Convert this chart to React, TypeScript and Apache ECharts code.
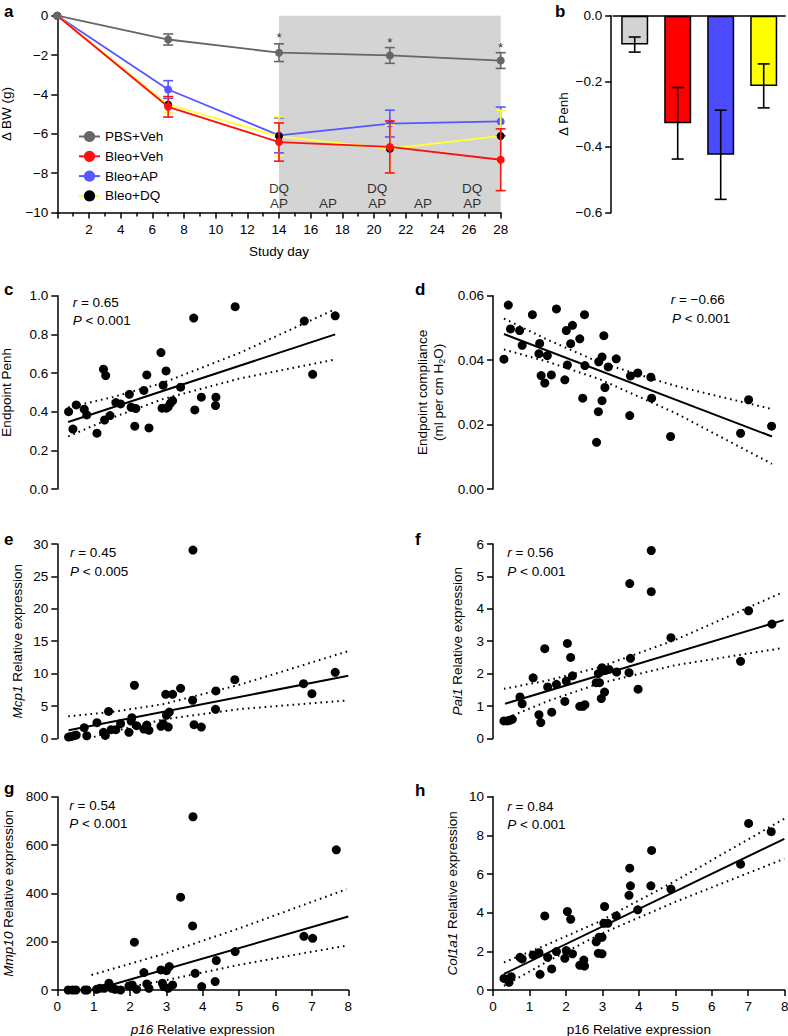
import React, { useEffect, useRef } from 'react';
import * as echarts from 'echarts';

const FONT = '"Liberation Sans", Arial, Helvetica, sans-serif';
const FS = 13.5;

// ---------- Panel a: body weight change ----------
const studyDays = [0, 7, 14, 21, 28];
const pbsVehMean = [0, -1.21, -1.88, -2.02, -2.28];
const pbsVehErr = [0, 0.28, 0.45, 0.4, 0.4];
const bleoVehMean = [0, -4.63, -6.42, -6.67, -7.32];
const bleoVehErr = [0, 0.52, 0.97, 1.32, 1.57];
const bleoApMean = [0, -3.75, -6.08, -5.48, -5.37];
const bleoApErr = [0, 0.45, 0.89, 0.68, 0.73];
const bleoDqMean = [0, -4.52, -6.13, -6.76, -6.11];
const bleoDqErr = [0, 0.4, 0.99, 1.2, 1.3];
const treatmentWindow = [14, 28];
const dqLabelDays = [14, 20.2, 26.2];
const apLabelDays = [14, 17.1, 20.2, 23.1, 26.2];
const dqLabelLevel = -8.79;
const apLabelLevel = -9.53;
const starDays = [14, 21, 28];
const starLevels = [-1.1, -1.36, -1.6];

// ---------- Panel b: change in Penh ----------
const groupNames = ['PBS+Veh', 'Bleo+Veh', 'Bleo+AP', 'Bleo+DQ'];
const penhChangeMean = [-0.088, -0.328, -0.424, -0.214];
const penhChangeErr = [0.023, 0.109, 0.136, 0.067];

// ---------- Panels c-h: correlations with p16 ----------
const penhPoints = [
  [0.31, 0.4], [0.43, 0.31], [0.52, 0.435], [0.74, 0.413], [0.81, 0.383], [1.09, 0.289],
  [1.27, 0.62], [1.33, 0.587], [1.3, 0.357], [1.45, 0.38], [1.61, 0.447], [1.74, 0.44],
  [1.98, 0.49], [2.03, 0.423], [2.16, 0.416], [2.13, 0.325], [2.38, 0.51], [2.46, 0.59],
  [2.52, 0.316], [2.85, 0.706], [2.91, 0.537], [2.99, 0.611], [2.88, 0.418], [3.0, 0.418],
  [3.05, 0.426], [3.11, 0.444], [3.17, 0.457], [3.39, 0.527], [3.75, 0.884], [3.78, 0.409],
  [3.96, 0.475], [4.36, 0.475], [4.35, 0.432], [4.89, 0.943], [6.79, 0.869], [7.02, 0.593],
  [7.64, 0.896],
];
const penhFit = [[0.3, 0.347], [7.64, 0.8]];
const penhUpper = [[0.3, 0.422], [1.5, 0.474], [2.9, 0.549], [5, 0.703], [7.64, 0.93]];
const penhLower = [[0.3, 0.272], [1.5, 0.368], [2.9, 0.465], [5, 0.571], [7.64, 0.67]];

const compliancePoints = [
  [0.3, 0.0403], [0.42, 0.0571], [0.48, 0.0497], [0.73, 0.0492], [0.8, 0.0446], [1.08, 0.0541],
  [1.28, 0.0452], [1.26, 0.042], [1.32, 0.0352], [1.42, 0.0329], [1.49, 0.0414], [1.6, 0.0354],
  [1.74, 0.0559], [1.97, 0.0339], [2.01, 0.0492], [2.04, 0.0385], [2.13, 0.0451], [2.18, 0.0508],
  [2.38, 0.0466], [2.46, 0.0282], [2.51, 0.0541], [2.52, 0.0383], [2.84, 0.0145], [2.89, 0.024],
  [2.9, 0.0395], [2.99, 0.041], [2.99, 0.0274], [3.04, 0.0476], [3.07, 0.0315], [3.16, 0.0379],
  [3.38, 0.0404], [3.75, 0.0228], [3.77, 0.0351], [3.97, 0.036], [4.33, 0.0347], [4.35, 0.0282],
  [4.87, 0.0163], [6.79, 0.0173], [7.01, 0.0277], [7.64, 0.0195],
];
const complianceFit = [[0.3, 0.0481], [7.65, 0.0163]];
const complianceUpper = [[0.3, 0.0529], [1.5, 0.0463], [2.9, 0.0394], [5, 0.032], [7.65, 0.0248]];
const complianceLower = [[0.3, 0.0433], [1.5, 0.0395], [2.9, 0.0342], [5, 0.0236], [7.65, 0.0078]];

const mcp1Points = [
  [0.31, 0.21], [0.38, 0.31], [0.45, 0.41], [0.52, 0.52], [0.74, 1.65], [0.81, 0.41],
  [1.09, 2.42], [1.27, 0.93], [1.32, 0.46], [1.41, 4.17], [1.48, 1.34], [1.61, 1.34],
  [1.74, 2.27], [1.97, 0.93], [2.03, 2.68], [2.05, 3.2], [2.12, 8.2], [2.18, 1.96],
  [2.38, 1.44], [2.46, 2.06], [2.52, 1.24], [2.85, 1.86], [2.91, 2.27], [2.98, 6.8],
  [3.0, 3.56], [3.05, 1.75], [3.08, 4.07], [3.17, 6.8], [3.39, 7.73], [3.72, 5.88],
  [3.73, 29.07], [3.76, 2.11], [3.96, 1.75], [4.35, 4.48], [4.36, 7.32], [4.88, 9.07],
  [6.77, 8.45], [7.0, 6.9], [7.64, 10.2],
];
const mcp1Fit = [[0.31, 1.25], [8, 9.67]];
const mcp1Upper = [[0.3, 3.4], [1.5, 4.08], [2.9, 5.27], [5, 8.26], [8, 13.47]];
const mcp1Lower = [[0.86, 0], [1.5, 1.02], [2.9, 2.91], [5, 4.52], [8, 5.87]];

const pai1Points = [
  [0.3, 0.54], [0.39, 0.54], [0.46, 0.56], [0.53, 0.59], [0.74, 1.28], [0.8, 1.07],
  [1.1, 1.87], [1.26, 0.73], [1.31, 0.49], [1.42, 2.77], [1.5, 1.59], [1.61, 0.81],
  [1.74, 1.67], [1.97, 1.14], [2.01, 1.77], [2.04, 2.93], [2.13, 2.5], [2.18, 1.93],
  [2.38, 0.99], [2.47, 0.99], [2.52, 1.04], [2.83, 1.72], [2.89, 2.0], [2.92, 1.72],
  [2.97, 1.23], [2.99, 2.18], [3.06, 1.43], [3.09, 2.1], [3.18, 2.13], [3.39, 2.05],
  [3.73, 2.03], [3.75, 4.78], [3.77, 2.47], [3.98, 1.52], [4.34, 5.8], [4.34, 4.53],
  [4.88, 3.11], [6.79, 2.38], [7.01, 3.94], [7.65, 3.53],
];
const pai1Fit = [[0.33, 1.07], [7.97, 3.65]];
const pai1Upper = [[0.3, 1.53], [1.5, 1.79], [2.9, 2.19], [5, 3.04], [7.95, 4.51]];
const pai1Lower = [[0.4, 0.64], [1.5, 1.15], [2.9, 1.69], [5, 2.26], [7.95, 2.79]];

const mmp10Points = [
  [0.3, 0], [0.42, 0], [0.51, 0], [0.76, 0], [0.82, 0], [1.08, 3], [1.17, 7], [1.29, 7],
  [1.42, 28], [1.49, 7], [1.59, 3], [1.74, 0], [1.97, 17], [2.06, 21], [2.12, 198], [2.18, 3],
  [2.38, 72], [2.46, 25], [2.52, 7], [2.85, 83], [2.89, 28], [2.93, 14], [3.0, 80], [3.05, 7],
  [3.08, 97], [3.17, 21], [3.39, 384], [3.72, 265], [3.73, 717], [3.79, 69], [3.97, 14],
  [4.34, 35], [4.37, 122], [4.89, 159], [6.78, 222], [7.02, 214], [7.67, 580],
];
const mmp10Fit = [[1.0, 0], [8, 304]];
const mmp10Upper = [[0.94, 62], [2.9, 148], [5, 255], [7.95, 417]];
const mmp10Lower = [[1.5, 0], [2.9, 38], [5, 104], [7.95, 184]];

const col1a1Points = [
  [0.3, 0.6], [0.44, 0.4], [0.5, 0.69], [0.74, 1.69], [0.8, 1.61], [1.1, 1.81], [1.26, 1.93],
  [1.29, 0.81], [1.42, 3.83], [1.5, 1.69], [1.61, 1.09], [1.74, 1.99], [1.97, 1.64], [2.01, 2.04],
  [2.04, 4.06], [2.13, 3.66], [2.18, 1.87], [2.38, 1.28], [2.49, 1.55], [2.51, 1.24], [2.83, 2.49],
  [2.89, 1.9], [2.91, 2.73], [2.99, 2.73], [2.99, 1.87], [3.04, 3.45], [3.06, 4.32], [3.15, 3.45],
  [3.38, 3.83], [3.73, 4.9], [3.75, 6.3], [3.77, 5.39], [3.97, 4.15], [4.33, 5.39], [4.35, 7.22],
  [4.88, 5.22], [6.79, 6.51], [7.01, 8.62], [7.63, 8.19],
];
const col1a1Fit = [[0.3, 0.83], [7.99, 7.82]];
const col1a1Upper = [[0.3, 1.43], [1.5, 2.36], [2.9, 3.53], [5, 5.64], [7.99, 8.86]];
const col1a1Lower = [[0.3, 0.21], [1.5, 1.48], [2.9, 2.85], [5, 4.56], [7.99, 6.79]];

// ---------- layout / styles ----------
const axisColor = '#000';
const lineStyleAxis = { color: axisColor, width: 1.5 };
const txt = { fontSize: FS, fontFamily: FONT, color: '#000' };
const rich = {
  i: { fontStyle: 'italic', fontSize: FS, fontFamily: FONT, color: '#000' },
  n: { fontSize: FS, fontFamily: FONT, color: '#000' },
  sub: { fontSize: 9, fontFamily: FONT, color: '#000', verticalAlign: 'bottom' },
};
const minus = (s: string) => s.replace('-', '\u2212');

const grids = [
  { left: 57.3, top: 15.7, width: 443.4, height: 196.8 },
  { left: 613.2, top: 15.7, width: 172, height: 196.8 },
  { left: 57.3, top: 295.7, width: 291, height: 193.3 },
  { left: 493, top: 295.7, width: 291.7, height: 193.3 },
  { left: 57.3, top: 544, width: 291, height: 194.4 },
  { left: 493, top: 544, width: 291.7, height: 194.4 },
  { left: 57.3, top: 796.7, width: 291, height: 193.3 },
  { left: 493, top: 796.7, width: 291.7, height: 193.3 },
];

function yAxisDef(gridIndex: number, min: number, max: number, interval: number, fmt: (v: number) => string, name: string, nameGap: number, extra: any = {}) {
  return {
    type: 'value', gridIndex, min, max, interval,
    axisLine: { show: true, onZero: false, lineStyle: lineStyleAxis },
    axisTick: { show: true, length: 6, lineStyle: lineStyleAxis },
    axisLabel: { ...txt, margin: 9, formatter: fmt },
    splitLine: { show: false },
    name, nameLocation: 'middle', nameRotate: 90, nameGap,
    nameTextStyle: { ...txt, rich, lineHeight: 16 },
    ...extra,
  };
}

function xAxisCorr(gridIndex: number, show: boolean, name = '') {
  return {
    type: 'value', gridIndex, min: 0, max: 8, interval: 1, show,
    axisLine: { show: true, onZero: false, lineStyle: lineStyleAxis },
    axisTick: { show: true, length: 6, lineStyle: lineStyleAxis },
    axisLabel: { ...txt, margin: 9 },
    splitLine: { show: false },
    name, nameLocation: 'middle', nameGap: 32,
    nameTextStyle: { ...txt, rich },
  };
}

function errRender(color: string, half: number, width: number) {
  return (params: any, api: any) => {
    const x = api.value(0), y = api.value(1), e = api.value(2);
    if (!e) return null;
    const top = api.coord([x, y + e]);
    const bot = api.coord([x, y - e]);
    const style = { stroke: color, lineWidth: width };
    return {
      type: 'group',
      children: [
        { type: 'line', shape: { x1: top[0], y1: top[1], x2: bot[0], y2: bot[1] }, style },
        { type: 'line', shape: { x1: top[0] - half, y1: top[1], x2: top[0] + half, y2: top[1] }, style },
        { type: 'line', shape: { x1: bot[0] - half, y1: bot[1], x2: bot[0] + half, y2: bot[1] }, style },
      ],
    };
  };
}

const bwGroups = [
  { name: 'Bleo+AP', mean: bleoApMean, err: bleoApErr, line: '#5757ff', marker: '#5757ff' },
  { name: 'Bleo+DQ', mean: bleoDqMean, err: bleoDqErr, line: '#ffff3a', marker: '#000' },
  { name: 'Bleo+Veh', mean: bleoVehMean, err: bleoVehErr, line: '#ff1010', marker: '#ff1010' },
  { name: 'PBS+Veh', mean: pbsVehMean, err: pbsVehErr, line: '#666666', marker: '#666666' },
];
const barColors = ['#d3d3d3', '#ff0000', '#4b4bff', '#ffff00'];

const corrPanels = [
  { g: 2, pts: penhPoints, fit: penhFit, up: penhUpper, lo: penhLower },
  { g: 3, pts: compliancePoints, fit: complianceFit, up: complianceUpper, lo: complianceLower },
  { g: 4, pts: mcp1Points, fit: mcp1Fit, up: mcp1Upper, lo: mcp1Lower },
  { g: 5, pts: pai1Points, fit: pai1Fit, up: pai1Upper, lo: pai1Lower },
  { g: 6, pts: mmp10Points, fit: mmp10Fit, up: mmp10Upper, lo: mmp10Lower },
  { g: 7, pts: col1a1Points, fit: col1a1Fit, up: col1a1Upper, lo: col1a1Lower },
];

function buildOption() {
  const series: any[] = [];
  // shaded treatment window
  series.push({
    type: 'custom', xAxisIndex: 0, yAxisIndex: 0, z: 1, silent: true,
    data: [[treatmentWindow[0], 0, treatmentWindow[1], -10]],
    renderItem: (params: any, api: any) => {
      const p1 = api.coord([api.value(0), api.value(1)]);
      const p2 = api.coord([api.value(2), api.value(3)]);
      return { type: 'rect', shape: { x: p1[0], y: p1[1], width: p2[0] - p1[0], height: p2[1] - p1[1] }, style: { fill: '#d4d4d4' } };
    },
  });
  bwGroups.forEach((grp, k) => {
    series.push({
      type: 'custom', name: grp.name + ' err', xAxisIndex: 0, yAxisIndex: 0, z: 3 + k * 2, silent: true,
      data: studyDays.map((d, i) => [d, grp.mean[i], grp.err[i]]),
      renderItem: errRender(grp.line, 5, 1.6),
    });
    series.push({
      type: 'line', name: grp.name, xAxisIndex: 0, yAxisIndex: 0, z: 4 + k * 2,
      data: studyDays.map((d, i) => [d, grp.mean[i]]),
      symbol: 'circle', symbolSize: 8, showSymbol: true,
      lineStyle: { color: grp.line, width: 1.8 },
      itemStyle: { color: grp.marker, opacity: 1 },
    });
  });
  const labelStyle = { show: true, position: 'inside', formatter: '{b}', ...txt };
  series.push({
    type: 'scatter', xAxisIndex: 0, yAxisIndex: 0, z: 20, silent: true, symbolSize: 1,
    itemStyle: { color: 'rgba(0,0,0,0)' }, label: labelStyle,
    data: [
      ...dqLabelDays.map((d) => ({ name: 'DQ', value: [d, dqLabelLevel] })),
      ...apLabelDays.map((d) => ({ name: 'AP', value: [d, apLabelLevel] })),
      ...starDays.map((d, i) => ({ name: '*', value: [d, starLevels[i]] })),
    ],
  });
  // panel b
  series.push({
    type: 'bar', xAxisIndex: 1, yAxisIndex: 1, barWidth: 27, z: 2,
    data: penhChangeMean.map((v, i) => ({ value: v, itemStyle: { color: barColors[i], borderColor: '#000', borderWidth: 1.5 } })),
  });
  series.push({
    type: 'custom', xAxisIndex: 1, yAxisIndex: 1, z: 5, silent: true,
    data: penhChangeMean.map((v, i) => [i, v, penhChangeErr[i]]),
    renderItem: errRender('#000', 6, 1.6),
  });
  // correlation panels
  corrPanels.forEach((p) => {
    const lineBase = { type: 'line', xAxisIndex: p.g, yAxisIndex: p.g, symbol: 'none', silent: true, z: 3 };
    series.push({ ...lineBase, data: p.fit, lineStyle: { color: '#000', width: 2 } });
    series.push({ ...lineBase, data: p.up, lineStyle: { color: '#000', width: 2, type: [1.6, 4] } });
    series.push({ ...lineBase, data: p.lo, lineStyle: { color: '#000', width: 2, type: [1.6, 4] } });
    series.push({
      type: 'scatter', xAxisIndex: p.g, yAxisIndex: p.g, data: p.pts, symbolSize: 9, z: 5, clip: false,
      itemStyle: { color: '#000', opacity: 1 },
    });
  });

  const xAxis: any[] = [
    {
      type: 'value', gridIndex: 0, min: 0, max: 28, interval: 2, z: 5,
      axisLine: { show: true, onZero: false, lineStyle: lineStyleAxis },
      axisTick: { show: true, length: 6, lineStyle: lineStyleAxis },
      minorTick: { show: true, splitNumber: 2, length: 4, lineStyle: lineStyleAxis },
      axisLabel: { ...txt, margin: 10, formatter: (v: number) => (v === 0 ? '' : String(v)) },
      splitLine: { show: false }, minorSplitLine: { show: false },
      name: 'Study day', nameLocation: 'middle', nameGap: 32, nameTextStyle: txt,
    },
    {
      type: 'category', gridIndex: 1, data: groupNames, position: 'top',
      axisLine: { show: true, onZero: false, lineStyle: lineStyleAxis },
      axisTick: { show: false }, axisLabel: { show: false },
    },
    xAxisCorr(2, false), xAxisCorr(3, false), xAxisCorr(4, false), xAxisCorr(5, false),
    xAxisCorr(6, true, '{i|p16}{n| Relative expression}'),
    xAxisCorr(7, true, 'p16 Relative expression'),
  ];

  const yAxis: any[] = [
    yAxisDef(0, -10, 0, 2, (v) => minus(String(v)), '\u0394 BW (g)', 24),
    yAxisDef(1, -0.6, 0, 0.2, (v) => minus(v.toFixed(1)).replace('\u22120.0', '0.0'), '\u0394 Penh', 40, { offset: 2 }),
    yAxisDef(2, 0, 1, 0.2, (v) => v.toFixed(1), 'Endpoint Penh', 43),
    yAxisDef(3, 0, 0.06, 0.02, (v) => v.toFixed(2), 'Endpoint compliance\n(ml per cm H{sub|2}O)', 47),
    yAxisDef(4, 0, 30, 5, (v) => String(v), '{i|Mcp1}{n| Relative expression}', 32),
    yAxisDef(5, 0, 6, 1, (v) => String(v), '{i|Pai1}{n| Relative expression}', 28),
    yAxisDef(6, 0, 800, 200, (v) => String(v), '{i|Mmp10}{n| Relative expression}', 41),
    yAxisDef(7, 0, 10, 2, (v) => String(v), '{i|Col1a1}{n| Relative expression}', 33),
  ];

  const letter = (x: number, baseline: number, t: string) => ({
    type: 'text', x, y: baseline - 6,
    style: { text: t, fontSize: 17, fontWeight: 'bold', fontFamily: FONT, fill: '#000', verticalAlign: 'middle' },
  });
  const note = (x: number, y: number, t: string) => ({
    type: 'text', x, y,
    style: {
      text: t, fontSize: FS, fontFamily: FONT, fill: '#000', verticalAlign: 'middle',
      rich: {
        i: { fontStyle: 'italic', fontSize: FS, fontFamily: FONT, fill: '#000' },
        n: { fontSize: FS, fontFamily: FONT, fill: '#000' },
      },
    },
  });

  const graphic = [
    letter(4, 17, 'a'), letter(555, 17, 'b'), letter(4, 295, 'c'), letter(415, 295, 'd'),
    letter(4, 545, 'e'), letter(415, 545, 'f'), letter(4, 794, 'g'), letter(415, 796, 'h'),
    note(72.7, 302.3, '{i|r}{n| = 0.65}'), note(72.7, 320.7, '{i|P}{n| < 0.001}'),
    note(670.7, 299.3, '{i|r}{n| = \u22120.66}'), note(672, 318.3, '{i|P}{n| < 0.001}'),
    note(70, 552.7, '{i|r}{n| = 0.45}'), note(70, 571.7, '{i|P}{n| < 0.005}'),
    note(507.3, 552.5, '{i|r}{n| = 0.56}'), note(507.3, 571, '{i|P}{n| < 0.001}'),
    note(69.3, 805, '{i|r}{n| = 0.54}'), note(69.3, 823.3, '{i|P}{n| < 0.001}'),
    note(507.3, 806, '{i|r}{n| = 0.84}'), note(507.3, 824.3, '{i|P}{n| < 0.001}'),
  ];

  return {
    animation: false,
    backgroundColor: '#fff',
    grid: grids.map((g) => ({ ...g, containLabel: false, outerBoundsMode: 'none' })),
    xAxis, yAxis, series, graphic,
    legend: {
      data: ['PBS+Veh', 'Bleo+Veh', 'Bleo+AP', 'Bleo+DQ'],
      orient: 'vertical', left: 78, top: 129.5, itemWidth: 21, itemHeight: 14, itemGap: 5.8,
      padding: 0, selectedMode: false, textStyle: txt,
    },
  };
}

export default function App() {
  const ref = useRef<HTMLDivElement>(null);
  useEffect(() => {
    document.body.style.margin = '0';
    const chart = echarts.init(ref.current!, null, { renderer: 'svg' });
    chart.setOption(buildOption() as any);
    return () => chart.dispose();
  }, []);
  return <div ref={ref} style={{ width: 788, height: 1036 }} />;
}
